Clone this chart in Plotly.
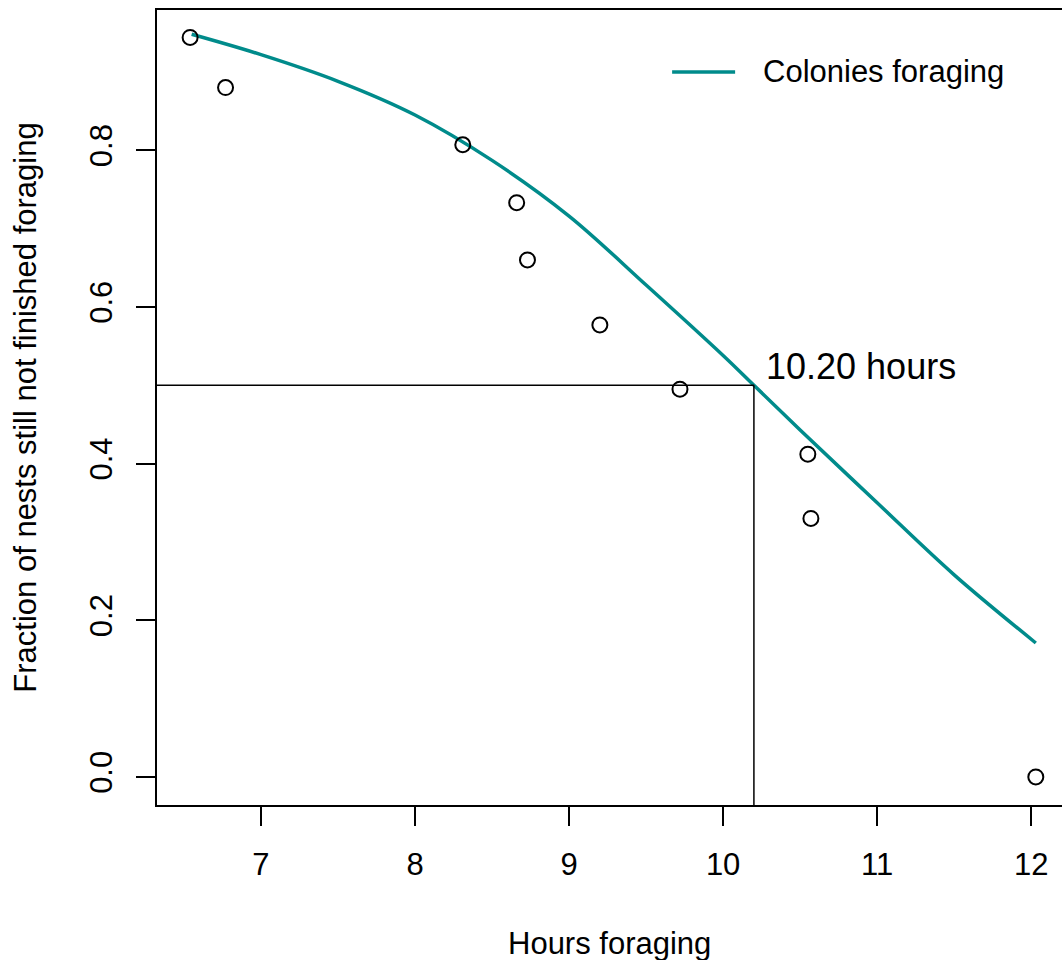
import plotly.graph_objects as go

# Observed data (hours foraging, fraction of nests still foraging)
obs_hours = [6.54, 6.77, 8.31, 8.66, 8.73, 9.20, 9.72, 10.55, 10.57, 12.03]
obs_frac = [0.944, 0.880, 0.807, 0.733, 0.660, 0.577, 0.495, 0.412, 0.330, 0.0]

# Fitted curve
curve_hours = [6.55, 7.0, 7.5, 8.0, 8.5, 9.0, 9.5, 10.0, 10.2, 10.5, 11.0, 11.5, 12.03]
curve_frac = [0.948, 0.922, 0.888, 0.845, 0.787, 0.716, 0.628, 0.538, 0.500, 0.443, 0.350, 0.258, 0.171]

half_time = 10.20
half_frac = 0.5
annot_text = "10.20 hours"
legend_label = "Colonies foraging"
x_title = "Hours foraging"
y_title = "Fraction of nests still not finished foraging"

x_ticks = [7, 8, 9, 10, 11, 12]
y_ticks = [0.0, 0.2, 0.4, 0.6, 0.8]
y_ticktext = ["0.0", "0.2", "0.4", "0.6", "0.8"]

x_range = [6.325, 12.2]
y_range = [-0.0358, 0.979]

teal = "#008B8B"
font_family = "Liberation Sans, Arial, Helvetica, sans-serif"

fig = go.Figure()

fig.add_trace(go.Scatter(
    x=curve_hours, y=curve_frac, mode="lines",
    line=dict(color=teal, width=3.5, shape="spline", smoothing=1.0),
    name=legend_label, showlegend=False, hoverinfo="skip",
))

fig.add_trace(go.Scatter(
    x=obs_hours, y=obs_frac, mode="markers",
    marker=dict(symbol="circle-open", size=15, color="black", line=dict(width=2, color="black")),
    showlegend=False,
))

# reference lines
fig.add_shape(type="line", xref="x", yref="y", x0=x_range[0], x1=half_time, y0=half_frac, y1=half_frac,
              line=dict(color="black", width=1.5))
fig.add_shape(type="line", xref="x", yref="y", x0=half_time, x1=half_time, y0=y_range[0], y1=half_frac,
              line=dict(color="black", width=1.5))

fig.add_annotation(x=10.265, y=0.524, xref="x", yref="y", text=annot_text, showarrow=False,
                   xanchor="left", yanchor="middle", font=dict(size=36, color="black", family=font_family))

# manual legend
fig.add_shape(type="line", xref="x", yref="y", x0=9.669, x1=10.078, y0=0.900, y1=0.900,
              line=dict(color=teal, width=3.5))
fig.add_annotation(x=10.245, y=0.900, xref="x", yref="y", text=legend_label, showarrow=False,
                   xanchor="left", yanchor="middle", font=dict(size=31, color="black", family=font_family))

# x axis title
fig.add_annotation(x=0.5, y=-0.1736, xref="paper", yref="paper", text=x_title, showarrow=False,
                   xanchor="center", yanchor="middle", font=dict(size=31, color="black", family=font_family))

fig.update_layout(
    width=1062, height=960,
    margin=dict(l=157, r=0, t=10, b=155),
    paper_bgcolor="white", plot_bgcolor="white",
    font=dict(family=font_family, size=31, color="black"),
    showlegend=False,
)

fig.update_xaxes(
    range=x_range, tickvals=x_ticks, ticktext=[str(v) for v in x_ticks],
    showgrid=False, zeroline=False, showline=True, linecolor="black", linewidth=1.5, mirror=True,
    ticks="outside", ticklen=19, tickwidth=1.5, tickcolor="black",
    tickfont=dict(size=31), ticklabelstandoff=12,
)
fig.update_yaxes(
    range=y_range, tickvals=y_ticks, ticktext=y_ticktext, tickangle=-90,
    showgrid=False, zeroline=False, showline=True, linecolor="black", linewidth=1.5, mirror=False,
    ticks="outside", ticklen=19, tickwidth=1.5, tickcolor="black",
    tickfont=dict(size=31), ticklabelstandoff=12,
    title=dict(text=y_title, font=dict(size=31), standoff=38),
)

fig.write_html("out.html")
